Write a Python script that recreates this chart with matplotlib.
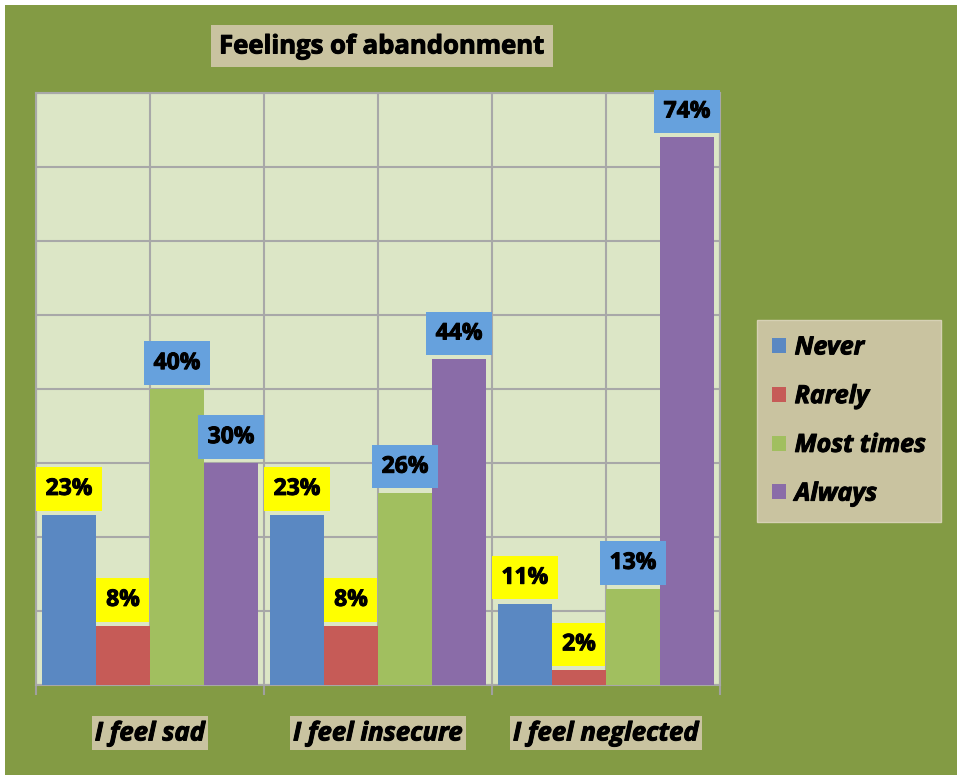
import numpy as np
import matplotlib
matplotlib.use("Agg")
import matplotlib.pyplot as plt
from matplotlib.patches import Rectangle
import matplotlib.patheffects as pe

plt.rcParams['font.family'] = ['Open Sans', 'DejaVu Sans']

categories = ['I feel sad', 'I feel insecure', 'I feel neglected']
series = ['Never', 'Rarely', 'Most times', 'Always']
never = [23, 23, 11]
rarely = [8, 8, 2]
most_times = [40, 26, 13]
always = [30, 44, 74]

colors = ['#5a88c2', '#c65b57', '#a1bf5f', '#8a6ca8']
label_bg = ['#ffff00', '#ffff00', '#66a1dd', '#66a1dd']
olive = '#839b44'
tan = '#c9c3a0'
heavy = [pe.withStroke(linewidth=0.7, foreground='black')]

fig = plt.figure(figsize=(9.57, 7.75), dpi=100)
fig.patch.set_facecolor('white')
fig.patches.append(Rectangle((5 / 957, 0), 1, 1 - 5 / 775, transform=fig.transFigure,
                             facecolor=olive, edgecolor='none', zorder=-10))

ax = fig.add_axes([36 / 957, 90 / 775, 684 / 957, 592 / 775])
ax.set_facecolor('#dce6c6')

x = np.arange(len(categories))
w = 0.237
data = [never, rarely, most_times, always]
for i, vals in enumerate(data):
    pos = x + (i - 1.5) * w
    ax.bar(pos, vals, w, color=colors[i], label=series[i], zorder=3)
    for px, v in zip(pos, vals):
        ax.annotate(f'{v}%', (px, v), xytext=(0, 10), textcoords='offset points',
                    ha='center', va='bottom', fontsize=16.5, fontweight='bold', color='black',
                    path_effects=heavy,
                    bbox=dict(boxstyle='square,pad=0.42', facecolor=label_bg[i], edgecolor='none'),
                    zorder=5)

ax.set_xlim(-0.5, 2.5)
ax.set_ylim(0, 80)
ax.set_yticks(np.arange(0, 81, 10))
ax.set_xticks([-0.5, 0.5, 1.5, 2.5])
ax.set_xticks(x, minor=True)
ax.tick_params(axis='x', which='major', direction='out', length=7, width=1.5, color='#a0a0a0',
               labelbottom=False)
ax.tick_params(axis='x', which='minor', length=0, labelbottom=False)
ax.tick_params(axis='y', length=0, labelleft=False)
ax.grid(True, which='both', color='#a8a8a8', linewidth=1.5, zorder=0)
ax.set_axisbelow(True)
for s in ax.spines.values():
    s.set_color('#a8a8a8')
    s.set_linewidth(1.5)

for xi, cat in zip(x, categories):
    ax.text(xi, -0.081, cat, transform=ax.get_xaxis_transform(), ha='center', va='center',
            fontsize=18.5, fontweight='bold', fontstyle='italic', path_effects=heavy,
            bbox=dict(boxstyle='square,pad=0.12', facecolor=tan, edgecolor='none'))

fig.text(382 / 957, 1 - 46 / 775, 'Feelings of abandonment', ha='center', va='center',
         fontsize=18.5, fontweight='bold', path_effects=heavy,
         bbox=dict(boxstyle='square,pad=0.3', facecolor=tan, edgecolor='none'))

leg = fig.legend(loc='center', bbox_to_anchor=(849 / 957, 1 - 421 / 775), frameon=True,
                 fancybox=False, handlelength=0.55, handleheight=0.55, handletextpad=0.35,
                 labelspacing=0.95, borderpad=0.6, borderaxespad=0,
                 prop={'size': 18, 'weight': 'bold', 'style': 'italic'})
leg.get_frame().set_facecolor(tan)
leg.get_frame().set_edgecolor('#d6d1b4')
leg.get_frame().set_alpha(1)
for t in leg.get_texts():
    t.set_path_effects(heavy)

fig.savefig('out.png', dpi=100, facecolor=fig.get_facecolor())
